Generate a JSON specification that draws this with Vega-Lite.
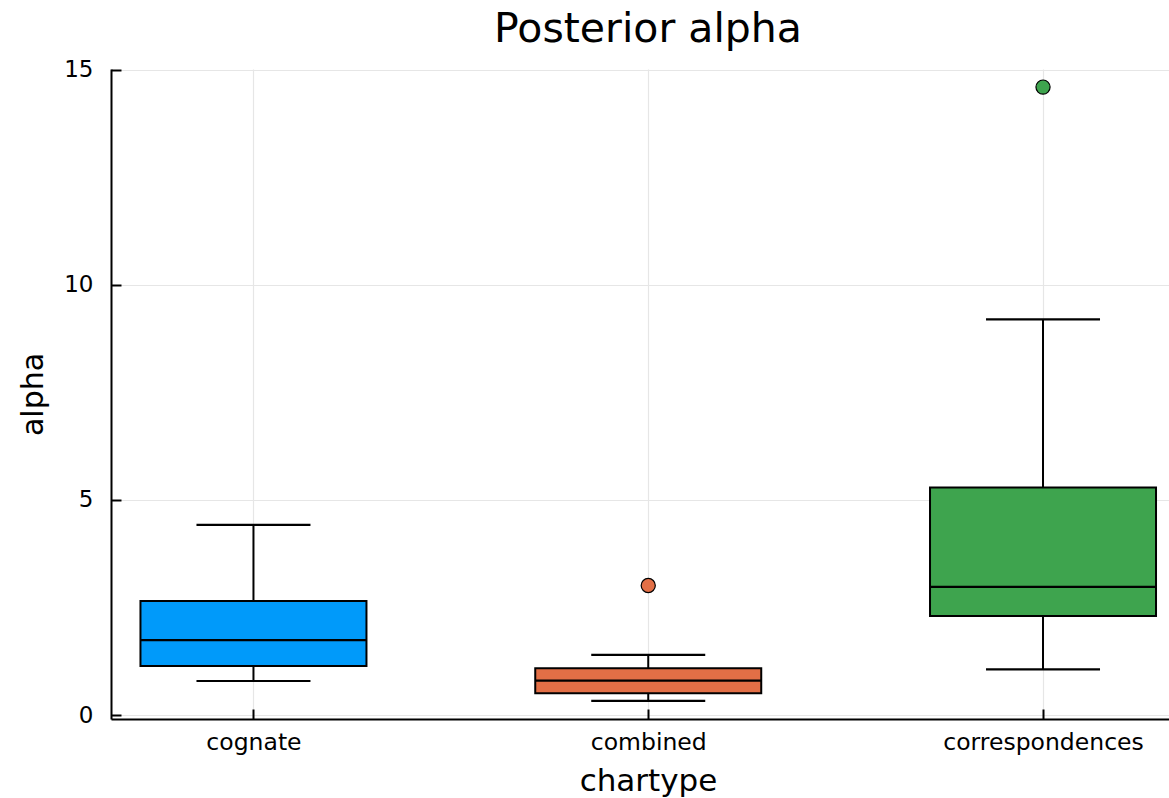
{
  "$schema": "https://vega.github.io/schema/vega-lite/v6.json",
  "width": 1058,
  "height": 650,
  "autosize": {"type": "none"},
  "padding": {"left": 111, "top": 69, "right": 0, "bottom": 79},
  "background": "white",
  "config": {
    "font": "DejaVu Sans",
    "view": {"stroke": null},
    "axis": {
      "domainColor": "black",
      "domainWidth": 2,
      "tickColor": "black",
      "tickWidth": 2,
      "tickSize": -10,
      "labelColor": "black",
      "titleColor": "black",
      "titleFontWeight": "normal",
      "labelFont": "DejaVu Sans",
      "titleFont": "DejaVu Sans",
      "gridColor": "#e6e6e6",
      "gridWidth": 1.2,
      "labelLimit": 0
    }
  },
  "title": {
    "text": "Posterior alpha",
    "fontSize": 41,
    "fontWeight": "normal",
    "font": "DejaVu Sans",
    "color": "black",
    "anchor": "middle",
    "offset": 8,
    "dx": 8
  },
  "datasets": {
    "boxes": [
      {"chartype": "cognate", "lower": 0.79, "q1": 1.14, "median": 1.74, "q3": 2.65, "upper": 4.42},
      {"chartype": "combined", "lower": 0.33, "q1": 0.505, "median": 0.8, "q3": 1.086, "upper": 1.4},
      {"chartype": "correspondences", "lower": 1.06, "q1": 2.3, "median": 2.98, "q3": 5.29, "upper": 9.2}
    ],
    "outliers": [
      {"chartype": "combined", "alpha": 3.01},
      {"chartype": "correspondences", "alpha": 14.6}
    ]
  },
  "encoding": {
    "x": {
      "field": "chartype",
      "type": "nominal",
      "sort": ["cognate", "combined", "correspondences"],
      "scale": {"type": "point", "padding": 0.34, "align": 0.5307},
      "axis": {
        "title": "chartype",
        "titleFontSize": 31,
        "labelFontSize": 23.5,
        "labelAngle": 0,
        "labelPadding": 21,
        "titlePadding": 13,
        "grid": true,
        "titleX": 537
      }
    }
  },
  "layer": [
    {
      "data": {"name": "boxes"},
      "mark": {"type": "rule", "color": "black", "strokeWidth": 2, "opacity": 1},
      "encoding": {
        "y": {
          "field": "lower",
          "type": "quantitative",
          "scale": {"domain": [-0.093, 15.02], "nice": false, "zero": false},
          "axis": {
            "title": "alpha",
            "titleFontSize": 30,
            "labelFontSize": 23,
            "labelPadding": 28,
            "titlePadding": 15,
            "values": [0, 5, 10, 15],
            "grid": true
          }
        },
        "y2": {"field": "q1"}
      }
    },
    {
      "data": {"name": "boxes"},
      "mark": {"type": "rule", "color": "black", "strokeWidth": 2, "opacity": 1},
      "encoding": {
        "y": {"field": "q3", "type": "quantitative"},
        "y2": {"field": "upper"}
      }
    },
    {
      "data": {"name": "boxes"},
      "mark": {"type": "bar", "width": 226, "stroke": "black", "strokeWidth": 2, "opacity": 1},
      "encoding": {
        "y": {"field": "q1", "type": "quantitative"},
        "y2": {"field": "q3"},
        "color": {
          "field": "chartype",
          "type": "nominal",
          "scale": {"domain": ["cognate", "combined", "correspondences"], "range": ["#009AFA", "#E26F46", "#3EA44E"]},
          "legend": null
        }
      }
    },
    {
      "data": {"name": "boxes"},
      "mark": {"type": "tick", "color": "black", "size": 226, "thickness": 2.2, "opacity": 1},
      "encoding": {
        "y": {"field": "median", "type": "quantitative"}
      }
    },
    {
      "data": {"name": "boxes"},
      "mark": {"type": "tick", "color": "black", "size": 114, "thickness": 2.2, "opacity": 1},
      "encoding": {
        "y": {"field": "lower", "type": "quantitative"}
      }
    },
    {
      "data": {"name": "boxes"},
      "mark": {"type": "tick", "color": "black", "size": 114, "thickness": 2.2, "opacity": 1},
      "encoding": {
        "y": {"field": "upper", "type": "quantitative"}
      }
    },
    {
      "data": {"name": "outliers"},
      "mark": {"type": "point", "filled": true, "shape": "circle", "size": 200, "stroke": "black", "strokeWidth": 1.2, "opacity": 1},
      "encoding": {
        "y": {"field": "alpha", "type": "quantitative"},
        "color": {"field": "chartype", "type": "nominal", "legend": null},
        "stroke": {"value": "black"}
      }
    }
  ]
}
